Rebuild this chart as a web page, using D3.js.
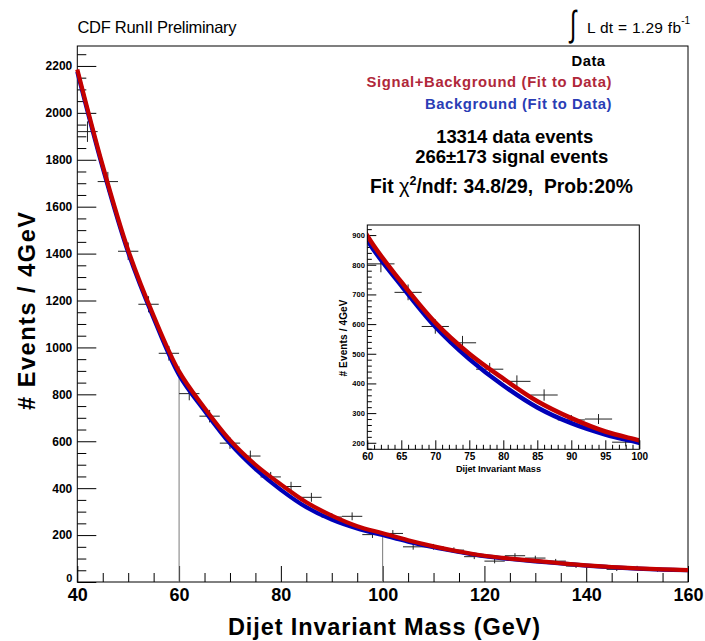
<!DOCTYPE html>
<html>
<head>
<meta charset="utf-8">
<script src="https://cdn.jsdelivr.net/npm/d3@7"></script>
<style>
  body { margin: 0; background: #fff; }
  svg { display: block; }
  text { font-family: "Liberation Sans", Arial, Helvetica, sans-serif; }
</style>
</head>
<body>
<svg id="chart" width="705" height="641"></svg>
<script>
// ---- Dijet invariant mass spectrum, 4 GeV bins ----
const binCenters = [42, 46, 50, 54, 58, 62, 66, 70, 74, 78, 82, 86, 90, 94, 98,
                    102, 106, 110, 114, 118, 122, 126, 130, 134, 138, 142, 146, 150, 154, 158];
const binWidth = 4;
const counts = [1920, 1707, 1410, 1184, 975, 803, 707, 592, 537, 448, 407, 361, 277, 280, 202,
                207, 150, 150, 136, 108, 89, 112, 102, 89, 68, 68, 54, 61, 51, 51];

// ---- Fit curves, sampled every 5 GeV ----
const fitMass   = [40, 45, 50, 55, 60, 65, 70, 75, 80, 85, 90, 95, 100,
                   105, 110, 115, 120, 125, 130, 135, 140, 145, 150, 155, 160];
const sigBkgFit = [2185, 1775, 1415, 1135, 898, 742, 605, 500, 416, 340, 283, 238, 208,
                   178, 152, 130, 112, 100, 90, 80, 71, 64, 58, 54, 51];
const bkgFit    = [2175, 1765, 1405, 1125, 883, 730, 591, 482, 393, 319, 266, 228, 200,
                   172, 148, 128, 110, 98, 88, 79, 70, 63, 57, 53, 50];

// ---- Axis ticks ----
const xTicksMajor = [40, 60, 80, 100, 120, 140, 160];
const xTicksMinor = [45, 50, 55, 65, 70, 75, 85, 90, 95, 105, 110, 115, 125, 130, 135, 145, 150, 155];
const yTicksMajor = [0, 200, 400, 600, 800, 1000, 1200, 1400, 1600, 1800, 2000, 2200];
const yTicksMinor = [50, 100, 150, 250, 300, 350, 450, 500, 550, 650, 700, 750, 850, 900, 950,
                     1050, 1100, 1150, 1250, 1300, 1350, 1450, 1500, 1550, 1650, 1700, 1750,
                     1850, 1900, 1950, 2050, 2100, 2150, 2250];

// ---- Zoomed panel (60-100 GeV) ----
const insetRange = [60, 100];
const insetRangeTops = [920, 209];
const insetXTicksMajor = [60, 65, 70, 75, 80, 85, 90, 95, 100];
const insetXTicksMinor = [61, 62, 63, 64, 66, 67, 68, 69, 71, 72, 73, 74, 76, 77, 78, 79,
                          81, 82, 83, 84, 86, 87, 88, 89, 91, 92, 93, 94, 96, 97, 98, 99];
const insetYTicksMajor = [200, 300, 400, 500, 600, 700, 800, 900];
const insetYTicksMinor = [180, 220, 240, 260, 280, 320, 340, 360, 380, 420, 440, 460, 480,
                          520, 540, 560, 580, 620, 640, 660, 680, 720, 740, 760, 780,
                          820, 840, 860, 880, 920];

// ---- Text ----
const titleText = "CDF RunII Preliminary";
const lumiText = "L dt = 1.29 fb";
const legendEntries = [
  { label: "Data", color: "#000000" },
  { label: "Signal+Background (Fit to Data)", color: "#b0283a" },
  { label: "Background (Fit to Data)", color: "#2a3db5" }
];
const statsLines = ["13314 data events", "266\u00B1173 signal events"];

const RED = "#c40000";
const BLUE = "#0000b8";
const FONT = "Liberation Sans, Arial, sans-serif";

const svg = d3.select("#chart");
svg.append("rect").attr("width", 705).attr("height", 641).attr("fill", "#fff");

// ---------------- main frame ----------------
const x = d3.scaleLinear().domain([40, 160]).range([77.3, 688]);
const y = d3.scaleLinear().domain([0, 2285]).range([582, 46]);

const main = svg.append("g");

// y axis ticks drawn inside the frame
const yMinor = main.append("g").attr("transform", `translate(${x(40)},0)`)
  .call(d3.axisLeft(y).tickValues(yTicksMinor).tickSize(-9).tickFormat(""));
const yMajor = main.append("g").attr("transform", `translate(${x(40)},0)`)
  .call(d3.axisLeft(y).tickValues(yTicksMajor).tickSize(-19).tickPadding(5).tickFormat(d3.format("d")));
yMajor.selectAll("text").attr("font-size", 12).attr("font-weight", "bold")
  .attr("fill", "#000").attr("font-family", FONT);
// the zero label sits a little above the corner
yMajor.selectAll(".tick").filter(d => d === 0).select("text")
  .attr("font-size", 11).attr("dy", "-0.05em");

const xMinor = main.append("g").attr("transform", `translate(0,${y(0)})`)
  .call(d3.axisBottom(x).tickValues(xTicksMinor).tickSize(-9).tickFormat(""));
const xMajor = main.append("g").attr("transform", `translate(0,${y(0)})`)
  .call(d3.axisBottom(x).tickValues(xTicksMajor).tickSize(-16).tickPadding(6.5));
xMajor.selectAll("text").attr("font-size", 18).attr("font-weight", "bold")
  .attr("fill", "#000").attr("font-family", FONT);

[yMinor, yMajor, xMinor, xMajor].forEach(g => {
  g.select(".domain").remove();
  g.selectAll("line").attr("stroke", "#000").attr("stroke-width", 1);
});

main.append("rect")
  .attr("x", x(40)).attr("y", y(2285))
  .attr("width", x(160) - x(40)).attr("height", y(0) - y(2285))
  .attr("fill", "none").attr("stroke", "#000").attr("stroke-width", 1);

// inset range markers
main.selectAll("line.range").data(insetRange).join("line")
  .attr("class", "range")
  .attr("x1", d => x(d)).attr("x2", d => x(d))
  .attr("y1", (d, i) => y(insetRangeTops[i])).attr("y2", y(0))
  .attr("stroke", "#7a7a7a").attr("stroke-width", 1);

// data points with errors
const pts = binCenters.map((c, i) => ({ c, n: counts[i], e: Math.sqrt(counts[i]) }));
const dataG = main.append("g").attr("stroke", "#222").attr("stroke-width", 1);
dataG.selectAll("line.h").data(pts).join("line").attr("class", "h")
  .attr("x1", d => x(d.c - binWidth / 2)).attr("x2", d => x(d.c + binWidth / 2))
  .attr("y1", d => y(d.n)).attr("y2", d => y(d.n));
dataG.selectAll("line.v").data(pts).join("line").attr("class", "v")
  .attr("x1", d => x(d.c)).attr("x2", d => x(d.c))
  .attr("y1", d => y(d.n + d.e)).attr("y2", d => y(d.n - d.e));

// fit curves
const bkgPts = fitMass.map((m, i) => [m, bkgFit[i]]);
const sbPts = fitMass.map((m, i) => [m, sigBkgFit[i]]);
const mainLine = d3.line().x(d => x(d[0])).y(d => y(d[1])).curve(d3.curveCatmullRom.alpha(0.5));
main.append("path").attr("d", mainLine(bkgPts))
  .attr("fill", "none").attr("stroke", BLUE).attr("stroke-width", 4.2);
main.append("path").attr("d", mainLine(sbPts))
  .attr("fill", "none").attr("stroke", RED).attr("stroke-width", 4.2);

// ---------------- inset ----------------
const xi = d3.scaleLinear().domain([60, 100]).range([367.3, 639.3]);
const yi = d3.scaleLinear().domain([178, 934]).range([449.3, 225]);
const inset = svg.append("g");

inset.append("rect")
  .attr("x", xi(60)).attr("y", yi(934))
  .attr("width", xi(100) - xi(60)).attr("height", yi(178) - yi(934))
  .attr("fill", "#fff");

const iyMinor = inset.append("g").attr("transform", `translate(${xi(60)},0)`)
  .call(d3.axisLeft(yi).tickValues(insetYTicksMinor).tickSize(-4.5).tickFormat(""));
const iyMajor = inset.append("g").attr("transform", `translate(${xi(60)},0)`)
  .call(d3.axisLeft(yi).tickValues(insetYTicksMajor).tickSize(-9).tickPadding(2.5));
iyMajor.selectAll("text").attr("font-size", 7.5).attr("font-weight", "bold")
  .attr("fill", "#000").attr("font-family", FONT);
const ixMinor = inset.append("g").attr("transform", `translate(0,${yi(178)})`)
  .call(d3.axisBottom(xi).tickValues(insetXTicksMinor).tickSize(-4.5).tickFormat(""));
const ixMajor = inset.append("g").attr("transform", `translate(0,${yi(178)})`)
  .call(d3.axisBottom(xi).tickValues(insetXTicksMajor).tickSize(-9).tickPadding(3.5));
ixMajor.selectAll("text").attr("font-size", 10).attr("font-weight", "bold")
  .attr("fill", "#000").attr("font-family", FONT);
[iyMinor, iyMajor, ixMinor, ixMajor].forEach(g => {
  g.select(".domain").remove();
  g.selectAll("line").attr("stroke", "#000").attr("stroke-width", 1);
});

inset.append("clipPath").attr("id", "insetClip").append("rect")
  .attr("x", xi(60)).attr("y", yi(934))
  .attr("width", xi(100) - xi(60)).attr("height", yi(178) - yi(934));

const inPts = pts.filter(d => d.c > 60 && d.c < 100);
const iData = inset.append("g").attr("stroke", "#222").attr("stroke-width", 1);
iData.selectAll("line.h").data(inPts).join("line").attr("class", "h")
  .attr("x1", d => xi(Math.max(60, d.c - binWidth / 2))).attr("x2", d => xi(Math.min(100, d.c + binWidth / 2)))
  .attr("y1", d => yi(d.n)).attr("y2", d => yi(d.n));
iData.selectAll("line.v").data(inPts).join("line").attr("class", "v")
  .attr("x1", d => xi(d.c)).attr("x2", d => xi(d.c))
  .attr("y1", d => yi(d.n + d.e)).attr("y2", d => yi(d.n - d.e));

const insetLine = d3.line().x(d => xi(d[0])).y(d => yi(d[1])).curve(d3.curveCatmullRom.alpha(0.5));
const inRange = p => p[0] >= 55 && p[0] <= 105;
const curvesG = inset.append("g").attr("clip-path", "url(#insetClip)");
curvesG.append("path").attr("d", insetLine(bkgPts.filter(inRange)))
  .attr("fill", "none").attr("stroke", BLUE).attr("stroke-width", 4.5);
curvesG.append("path").attr("d", insetLine(sbPts.filter(inRange)))
  .attr("fill", "none").attr("stroke", RED).attr("stroke-width", 4.5);

inset.append("rect")
  .attr("x", xi(60)).attr("y", yi(934))
  .attr("width", xi(100) - xi(60)).attr("height", yi(178) - yi(934))
  .attr("fill", "none").attr("stroke", "#000").attr("stroke-width", 1);

inset.append("text").text("Dijet Invariant Mass")
  .attr("x", 498.5).attr("y", 472.3).attr("text-anchor", "middle")
  .attr("font-size", 9.2).attr("font-weight", "bold").attr("textLength", 85);
inset.append("text").text("# Events / 4GeV")
  .attr("transform", "translate(346.5,338) rotate(-90)").attr("text-anchor", "middle")
  .attr("font-size", 10).attr("font-weight", "bold").attr("textLength", 77);

// ---------------- labels ----------------
svg.append("text").text(titleText)
  .attr("x", 77.5).attr("y", 33).attr("font-size", 16.5).attr("textLength", 159);

// integral sign, narrowed to a tall thin stroke
svg.append("text").text("\u222B")
  .attr("transform", "translate(570,35.5) scale(0.65,1)")
  .attr("font-size", 36)
  .attr("font-family", "DejaVu Sans, sans-serif");
const lumi = svg.append("text").attr("x", 587).attr("y", 33.3).attr("font-size", 15.5);
lumi.append("tspan").text(lumiText).attr("textLength", 94);
lumi.append("tspan").text("-1").attr("font-size", 10).attr("dy", -9);

legendEntries.forEach((d, i) => {
  const t = svg.append("text").text(d.label)
    .attr("y", [65.7, 87, 108.5][i]).attr("font-size", 14.8).attr("font-weight", "bold")
    .attr("fill", d.color);
  if (i === 0) t.attr("x", 588.3).attr("text-anchor", "middle").attr("textLength", 33.5);
  else t.attr("x", 611.5).attr("text-anchor", "end").attr("textLength", i === 1 ? 245 : 186.5);
});

svg.append("text").text(statsLines[0])
  .attr("x", 514.7).attr("y", 143.3).attr("text-anchor", "middle")
  .attr("font-size", 18.5).attr("font-weight", "bold").attr("textLength", 157);
svg.append("text").text(statsLines[1])
  .attr("x", 511.7).attr("y", 162.8).attr("text-anchor", "middle")
  .attr("font-size", 18.5).attr("font-weight", "bold").attr("textLength", 193);

const chi = svg.append("text")
  .attr("x", 370).attr("y", 193.3)
  .attr("font-size", 19.3).attr("font-weight", "bold")
  .style("white-space", "pre");
chi.append("tspan").text("Fit ");
chi.append("tspan").text("\u03C7").attr("font-weight", "normal").attr("font-size", 20);
chi.append("tspan").text("2").attr("font-size", 12.5).attr("dy", -8.5);
chi.append("tspan").text("/ndf: 34.8/29,  Prob:20%").attr("dy", 8.5);

svg.append("text").text("Dijet Invariant Mass (GeV)")
  .attr("x", 384).attr("y", 635).attr("text-anchor", "middle")
  .attr("font-size", 23.5).attr("font-weight", "bold").attr("textLength", 312);
svg.append("text").text("# Events / 4GeV")
  .attr("transform", "translate(35,311) rotate(-90)").attr("text-anchor", "middle")
  .attr("font-size", 23.5).attr("font-weight", "bold").attr("textLength", 198);
</script>
</body>
</html>
